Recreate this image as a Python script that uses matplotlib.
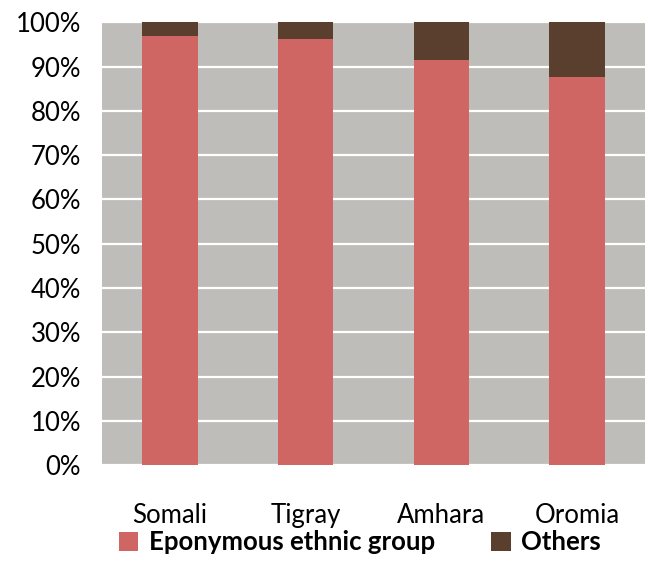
import numpy as np
import matplotlib
matplotlib.use("Agg")
import matplotlib.pyplot as plt
from matplotlib.ticker import PercentFormatter

regions = ["Somali", "Tigray", "Amhara", "Oromia"]
eponymous = [97.0, 96.3, 91.4, 87.7]
others = [3.0, 3.7, 8.6, 12.3]
series_names = ["Eponymous ethnic group", "Others"]

plt.rcParams['font.family'] = ['Lato', 'DejaVu Sans']

fig = plt.figure(figsize=(6.45, 5.85), dpi=100)
ax = fig.add_axes([0.158, 0.205, 0.842, 0.757])
ax.set_facecolor('#bebdb9')

x = np.arange(len(regions))
ax.bar(x, eponymous, width=0.41, color='#d06663', label=series_names[0], zorder=3)
ax.bar(x, others, width=0.41, bottom=eponymous, color='#5a3e2e', label=series_names[1], zorder=3)

ax.set_xlim(-0.5, len(regions) - 0.5)
ax.set_ylim(0, 100)
ax.set_yticks(np.arange(0, 101, 10))
ax.yaxis.set_major_formatter(PercentFormatter(decimals=0))
ax.yaxis.grid(True, color='white', linewidth=1.6, zorder=1)
ax.set_axisbelow(True)
for s in ax.spines.values():
    s.set_visible(False)
ax.tick_params(axis='y', length=0, pad=15, labelsize=18.5)
ax.tick_params(axis='x', length=0, pad=27, labelsize=18.5)
ax.set_xticks(x)
ax.set_xticklabels(regions)

leg = fig.legend(loc='center', bbox_to_anchor=(0.558, 0.073), ncol=2, frameon=False,
                 prop={'weight': 'bold', 'size': 18.5}, handlelength=0.75, handleheight=0.75,
                 columnspacing=2.2, handletextpad=0.4)

fig.savefig("out.png", dpi=100)
